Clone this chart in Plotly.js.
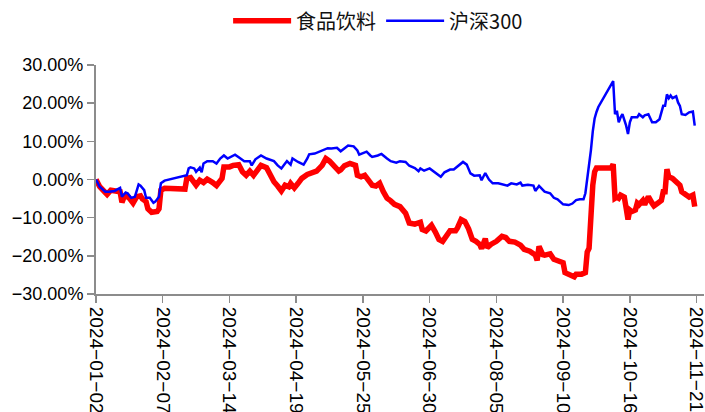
<!DOCTYPE html>
<html>
<head>
<meta charset="utf-8">
<script src="https://cdn.plot.ly/plotly-3.0.1.min.js"></script>
<style>html,body{margin:0;padding:0;background:#fff;}#chart{width:705px;height:412px;}</style>
</head>
<body>
<div id="chart"></div>
<script>
// 沪深300 cumulative return (%)
var hsDates = ["2024-01-02","2024-01-04","2024-01-07","2024-01-09","2024-01-12","2024-01-15","2024-01-16","2024-01-18","2024-01-19","2024-01-21","2024-01-23","2024-01-25","2024-01-26","2024-01-28","2024-01-29","2024-01-31","2024-02-02","2024-02-03","2024-02-05","2024-02-06","2024-02-08","2024-02-19","2024-02-20","2024-02-21","2024-02-22","2024-02-24","2024-02-25","2024-02-27","2024-02-28","2024-02-29","2024-03-02","2024-03-05","2024-03-07","2024-03-09","2024-03-11","2024-03-13","2024-03-17","2024-03-19","2024-03-22","2024-03-25","2024-03-26","2024-03-28","2024-03-31","2024-04-03","2024-04-07","2024-04-09","2024-04-11","2024-04-13","2024-04-14","2024-04-16","2024-04-17","2024-04-20","2024-04-23","2024-04-25","2024-04-26","2024-04-29","2024-05-01","2024-05-03","2024-05-06","2024-05-08","2024-05-11","2024-05-13","2024-05-15","2024-05-17","2024-05-20","2024-05-22","2024-05-23","2024-05-25","2024-05-27","2024-05-29","2024-05-30","2024-06-02","2024-06-04","2024-06-07","2024-06-09","2024-06-12","2024-06-14","2024-06-17","2024-06-19","2024-06-22","2024-06-24","2024-06-25","2024-06-27","2024-06-30","2024-07-03","2024-07-06","2024-07-08","2024-07-11","2024-07-13","2024-07-16","2024-07-18","2024-07-20","2024-07-22","2024-07-24","2024-07-27","2024-07-28","2024-07-30","2024-08-01","2024-08-03","2024-08-06","2024-08-09","2024-08-11","2024-08-13","2024-08-16","2024-08-18","2024-08-19","2024-08-22","2024-08-25","2024-08-26","2024-08-28","2024-08-31","2024-09-03","2024-09-05","2024-09-07","2024-09-10","2024-09-13","2024-09-15","2024-09-17","2024-09-19","2024-09-21","2024-09-22","2024-09-23","2024-09-24","2024-09-25","2024-09-26","2024-09-27","2024-09-28","2024-09-29","2024-10-07","2024-10-08","2024-10-09","2024-10-10","2024-10-11","2024-10-12","2024-10-14","2024-10-15","2024-10-16","2024-10-17","2024-10-20","2024-10-21","2024-10-23","2024-10-24","2024-10-26","2024-10-28","2024-10-30","2024-11-01","2024-11-03","2024-11-04","2024-11-05","2024-11-06","2024-11-07","2024-11-08","2024-11-10","2024-11-11","2024-11-12","2024-11-13","2024-11-15","2024-11-17","2024-11-19","2024-11-20"];
var hsValues = [0.0,-1.9,-3.2,-3.2,-3.0,-2.2,-4.5,-3.4,-3.6,-4.8,-4.5,-1.3,-1.6,-2.8,-4.8,-4.8,-6.1,-5.8,-4.5,-1.0,-0.3,0.9,1.1,2.9,3.2,2.9,2.0,3.1,1.9,4.2,4.8,4.8,4.2,5.5,6.3,5.5,6.5,5.8,4.8,4.8,3.7,5.3,6.3,5.5,4.8,3.7,2.9,4.2,4.8,3.9,5.5,4.6,3.9,5.5,6.6,6.8,7.2,7.8,8.2,8.1,8.3,7.4,8.2,8.9,8.7,7.6,6.5,7.0,7.3,6.3,5.9,6.3,6.7,5.5,4.8,4.4,4.8,4.6,3.6,3.0,2.2,2.9,2.3,2.9,1.8,0.7,1.9,2.6,2.6,3.9,4.6,3.9,1.6,1.0,1.1,-0.2,1.7,0.0,-1.0,-1.0,-1.3,-1.6,-1.0,-1.3,-0.8,-1.6,-1.4,-1.6,-3.0,-1.7,-3.2,-3.6,-4.8,-5.2,-6.5,-6.7,-6.3,-5.4,-5.2,-5.2,-3.6,0.2,3.0,7.7,12.6,16.0,17.7,19.0,25.8,17.1,18.0,15.0,16.3,17.1,14.1,11.9,15.0,16.3,16.3,17.1,16.3,16.8,17.1,15.0,15.0,15.8,19.3,19.3,22.3,21.3,22.0,21.3,21.8,20.2,19.3,17.1,16.9,17.6,17.8,14.1];

// 食品饮料 cumulative return (%)
var spDates = ["2024-01-02","2024-01-04","2024-01-07","2024-01-08","2024-01-10","2024-01-13","2024-01-15","2024-01-16","2024-01-17","2024-01-19","2024-01-20","2024-01-22","2024-01-24","2024-01-26","2024-01-27","2024-01-29","2024-01-30","2024-02-01","2024-02-04","2024-02-05","2024-02-06","2024-02-07","2024-02-08","2024-02-19","2024-02-20","2024-02-22","2024-02-23","2024-02-25","2024-02-27","2024-02-29","2024-03-02","2024-03-04","2024-03-05","2024-03-07","2024-03-09","2024-03-10","2024-03-11","2024-03-14","2024-03-16","2024-03-19","2024-03-21","2024-03-23","2024-03-25","2024-03-27","2024-03-29","2024-03-31","2024-04-03","2024-04-05","2024-04-07","2024-04-09","2024-04-11","2024-04-13","2024-04-15","2024-04-16","2024-04-18","2024-04-20","2024-04-22","2024-04-25","2024-04-27","2024-04-30","2024-05-03","2024-05-05","2024-05-07","2024-05-10","2024-05-12","2024-05-13","2024-05-15","2024-05-18","2024-05-21","2024-05-22","2024-05-24","2024-05-26","2024-05-28","2024-05-30","2024-06-01","2024-06-03","2024-06-05","2024-06-07","2024-06-09","2024-06-11","2024-06-14","2024-06-17","2024-06-19","2024-06-22","2024-06-25","2024-06-26","2024-06-28","2024-07-01","2024-07-03","2024-07-05","2024-07-07","2024-07-09","2024-07-11","2024-07-14","2024-07-15","2024-07-17","2024-07-19","2024-07-21","2024-07-23","2024-07-25","2024-07-27","2024-07-28","2024-07-30","2024-07-31","2024-08-02","2024-08-05","2024-08-08","2024-08-10","2024-08-12","2024-08-15","2024-08-18","2024-08-20","2024-08-23","2024-08-26","2024-08-27","2024-08-28","2024-08-30","2024-08-31","2024-09-03","2024-09-05","2024-09-07","2024-09-10","2024-09-11","2024-09-14","2024-09-16","2024-09-17","2024-09-20","2024-09-22","2024-09-23","2024-09-24","2024-09-25","2024-09-26","2024-09-27","2024-09-28","2024-09-29","2024-10-06","2024-10-07","2024-10-08","2024-10-09","2024-10-10","2024-10-11","2024-10-13","2024-10-14","2024-10-15","2024-10-16","2024-10-17","2024-10-19","2024-10-20","2024-10-21","2024-10-23","2024-10-24","2024-10-26","2024-10-28","2024-10-29","2024-10-31","2024-11-02","2024-11-03","2024-11-04","2024-11-05","2024-11-06","2024-11-08","2024-11-10","2024-11-12","2024-11-13","2024-11-15","2024-11-17","2024-11-19","2024-11-20"];
var spValues = [0.0,-1.9,-3.4,-3.9,-2.8,-3.0,-3.2,-6.0,-4.8,-4.3,-4.9,-6.2,-4.5,-4.3,-5.1,-5.8,-7.7,-8.6,-8.4,-7.7,-2.8,-2.3,-2.3,-2.5,0.3,0.5,-0.4,-1.5,-0.2,-0.8,0.1,-0.4,-0.8,-1.6,-0.5,0.3,3.3,3.3,3.7,3.9,2.0,1.1,2.2,1.1,2.4,3.7,3.1,1.1,-0.6,-1.7,-3.0,-1.5,-1.9,-1.0,-2.2,-1.0,0.3,1.3,1.8,2.2,3.7,5.5,4.8,3.3,2.2,2.5,3.6,4.2,3.7,1.1,0.7,1.1,-0.2,-1.5,-1.7,-1.0,-3.2,-4.9,-5.6,-6.5,-7.1,-8.8,-11.4,-11.7,-11.2,-13.1,-13.5,-12.0,-13.7,-15.7,-16.2,-14.9,-13.4,-13.4,-12.7,-10.5,-11.0,-12.9,-15.7,-16.2,-17.0,-18.1,-15.5,-17.9,-17.0,-16.2,-14.9,-15.2,-16.2,-16.4,-17.2,-18.3,-18.8,-19.8,-21.2,-17.5,-19.7,-19.8,-19.5,-20.9,-21.4,-21.8,-24.4,-24.9,-25.5,-24.8,-24.8,-24.4,-19.0,-18.0,-8.0,-1.5,2.0,3.0,3.0,3.0,4.0,-4.9,-4.6,-4.9,-4.1,-4.6,-7.5,-10.5,-8.0,-8.4,-8.0,-6.2,-6.6,-5.5,-6.6,-4.5,-6.2,-6.9,-6.2,-5.5,-3.2,-3.2,2.7,0.7,0.3,-0.4,-1.5,-3.2,-4.1,-4.6,-4.1,-7.1];

var xTickVals = ["2024-01-02","2024-02-07","2024-03-14","2024-04-19","2024-05-25","2024-06-30","2024-08-05","2024-09-10","2024-10-16","2024-11-21"];
var xTickText = xTickVals.map(function(s){ return s.replace(/-/g, "\u2212"); });
var yTickVals = [-30,-20,-10,0,10,20,30];
var yTickText = yTickVals.map(function(v){ return (v < 0 ? "\u2212" : "") + Math.abs(v).toFixed(2) + "%"; });

var traces = [
  {x: spDates, y: spValues, name: "食品饮料", type: "scatter", mode: "lines",
   line: {color: "#ff0000", width: 5.5}},
  {x: hsDates, y: hsValues, name: "沪深300", type: "scatter", mode: "lines",
   line: {color: "#0000ff", width: 2.5}}
];

var axisGray = "#8c8c8c";
var layout = {
  width: 705, height: 412,
  margin: {l: 96, r: 1, t: 62, b: 118, pad: 0},
  paper_bgcolor: "#ffffff", plot_bgcolor: "#ffffff",
  showlegend: true,
  legend: {orientation: "h", x: 0.464, xanchor: "center", y: 1.193, yanchor: "middle",
           font: {family: "Noto Sans CJK SC, sans-serif", size: 20, color: "#111"},
           itemwidth: 58, bgcolor: "rgba(0,0,0,0)"},
  xaxis: {type: "date", range: ["2024-01-02", "2024-11-25"],
          tickmode: "array", tickvals: xTickVals, ticktext: xTickText, tickangle: 90,
          ticklabeloverflow: "allow",
          ticks: "outside", ticklen: 7, tickwidth: 1.5, tickcolor: axisGray,
          showline: true, linecolor: axisGray, linewidth: 2, showgrid: false, zeroline: false,
          tickfont: {family: "Liberation Sans, Arial, sans-serif", size: 19, color: "#000"},
          automargin: false, fixedrange: true},
  yaxis: {range: [-30, 30], tickmode: "array", tickvals: yTickVals, ticktext: yTickText,
          ticks: "outside", ticklen: 7, tickwidth: 1.5, tickcolor: axisGray,
          showline: true, linecolor: axisGray, linewidth: 2, showgrid: false, zeroline: false,
          tickfont: {family: "Liberation Sans, Arial, sans-serif", size: 18, color: "#000"},
          automargin: false, fixedrange: true}
};

Plotly.newPlot("chart", traces, layout, {displayModeBar: false, staticPlot: true});
</script>
</body>
</html>
